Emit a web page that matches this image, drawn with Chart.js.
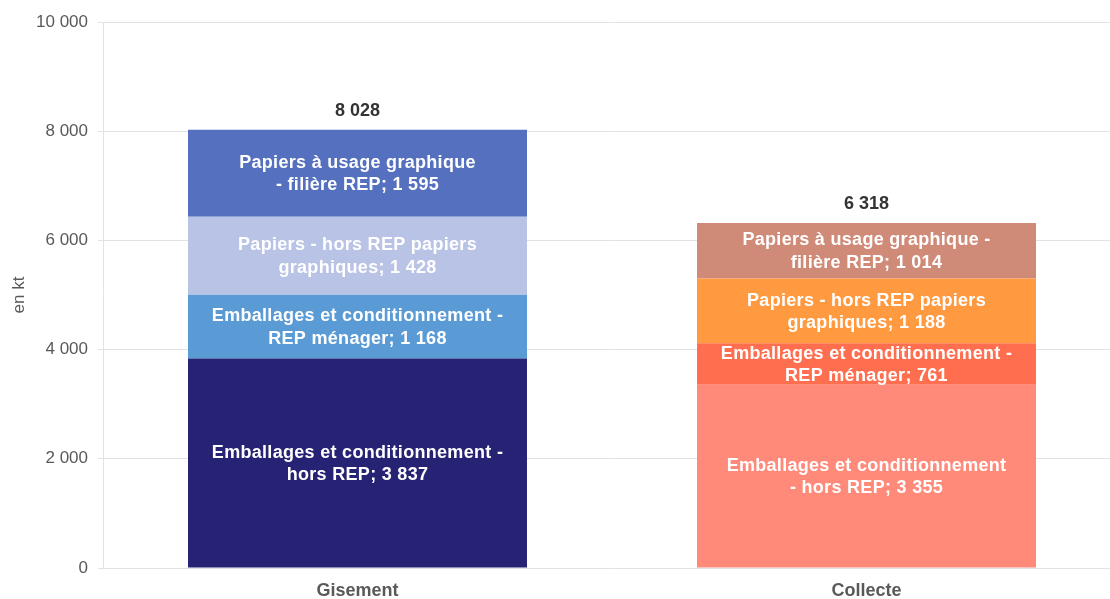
<!DOCTYPE html>
<html>
<head>
<meta charset="utf-8">
<script src="https://cdn.jsdelivr.net/npm/chart.js@4"></script>
<style>
  html, body { margin: 0; padding: 0; background: #fff; overflow: hidden; }
  #wrap { width: 1121px; height: 599px; }
</style>
</head>
<body>
<div id="wrap"><canvas id="chart" width="1121" height="599"></canvas></div>
<script>
// Data
const categories = ['Gisement', 'Collecte'];
const horsRepEmballages = [3837, 3355];
const repMenager = [1168, 761];
const horsRepPapiers = [1428, 1188];
const repPapiersGraphiques = [1595, 1014];
const yTicks = [0, 2000, 4000, 6000, 8000, 10000];

// segment label lines (value appended to last line)
const labelLines = [
    [['Emballages et conditionnement -', 'hors REP'], ['Emballages et conditionnement', '- hors REP']],
    [['Emballages et conditionnement -', 'REP ménager'], ['Emballages et conditionnement -', 'REP ménager']],
    [['Papiers - hors REP papiers', 'graphiques'], ['Papiers - hors REP papiers', 'graphiques']],
    [['Papiers à usage graphique', '- filière REP'], ['Papiers à usage graphique -', 'filière REP']]
];

const fmt = v => String(Math.round(v)).replace(/\B(?=(\d{3})+(?!\d))/g, ' ');
const FONT = "'Liberation Sans', Arial, sans-serif";

const segmentLabels = {
    id: 'segmentLabels',
    afterDatasetsDraw(chart) {
        const ctx = chart.ctx;
        ctx.save();
        ctx.textAlign = 'center';
        ctx.textBaseline = 'middle';
        ctx.font = 'bold 18px ' + FONT;
        ctx.letterSpacing = '0.3px';
        ctx.fillStyle = '#ffffff';
        chart.data.datasets.forEach((ds, di) => {
            const meta = chart.getDatasetMeta(di);
            meta.data.forEach((bar, i) => {
                const lines = labelLines[di][i].slice();
                lines[lines.length - 1] += '; ' + fmt(ds.data[i]);
                const cy = (bar.y + bar.base) / 2 + 1;
                const lh = 22.5;
                lines.forEach((t, k) => {
                    ctx.fillText(t, bar.x, cy + (k - (lines.length - 1) / 2) * lh);
                });
            });
        });
        // totals
        ctx.fillStyle = '#333333';
        ctx.letterSpacing = '0px';
        const last = chart.getDatasetMeta(chart.data.datasets.length - 1);
        last.data.forEach((bar, i) => {
            const total = chart.data.datasets.reduce((s, d) => s + d.data[i], 0);
            ctx.fillText(fmt(total), bar.x, bar.y - 19);
        });
        ctx.restore();
    }
};

const ctx = document.getElementById('chart').getContext('2d');
new Chart(ctx, {
    type: 'bar',
    data: {
        labels: categories,
        datasets: [
            { label: 'Emballages et conditionnement - hors REP', data: horsRepEmballages, backgroundColor: ['#262274', '#FF8A7A'] },
            { label: 'Emballages et conditionnement - REP ménager', data: repMenager, backgroundColor: ['#5B9BD5', '#FF6E4F'] },
            { label: 'Papiers - hors REP papiers graphiques', data: horsRepPapiers, backgroundColor: ['#B8C3E5', '#FF9A40'] },
            { label: 'Papiers à usage graphique - filière REP', data: repPapiersGraphiques, backgroundColor: ['#5570BE', '#D08A78'] }
        ]
    },
    options: {
        responsive: false,
        animation: false,
        categoryPercentage: 1,
        barPercentage: 0.666,
        layout: { padding: { top: 22, right: 0, bottom: 0, left: 0 } },
        plugins: {
            legend: { display: false },
            tooltip: { enabled: false }
        },
        scales: {
            x: {
                stacked: true,
                grid: { display: false },
                border: { display: false },
                ticks: {
                    color: '#595959',
                    font: { family: FONT, size: 18, weight: 'bold' },
                    padding: 4
                },
                afterFit(scale) { scale.height = 31; }
            },
            y: {
                stacked: true,
                min: 0,
                max: 10000,
                afterBuildTicks(scale) { scale.ticks = yTicks.map(v => ({ value: v })); },
                grid: { color: '#e2e2e2', tickLength: 5 },
                border: { color: '#e2e2e2' },
                ticks: {
                    color: '#595959',
                    font: { family: FONT, size: 17 },
                    padding: 10,
                    callback: v => fmt(v)
                },
                title: {
                    display: true,
                    text: 'en kt',
                    color: '#595959',
                    font: { family: FONT, size: 17 },
                    padding: { top: 9, bottom: 0 }
                },
                afterFit(scale) { scale.width = 103; }
            }
        }
    },
    plugins: [segmentLabels]
});
</script>
</body>
</html>
